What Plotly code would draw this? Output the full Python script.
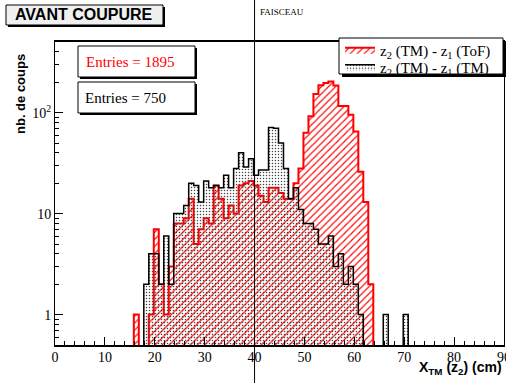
import numpy as np
import plotly.graph_objects as go

# ---- data: counts per 1 cm bin, lower edge of first bin at 14.8 cm ----
first_edge = 14.8
bin_width = 1.0

# z2 (TM) - z1 (ToF)
tof_counts = [0, 1, 0, 0, 1, 7, 2, 1, 3, 8, 8, 9, 14, 5, 7, 9, 8, 19, 14, 9,
              12, 10, 19, 20, 21, 19, 15, 13, 18, 18, 16, 14, 14, 20, 28, 63,
              92, 153, 187, 196, 203, 186, 116, 116, 95, 65, 26, 13, 2,
              0, 0, 0, 0, 0, 0, 0, 0]
# z2 (TM) - z1 (TM)
tm_counts = [0, 0, 0, 2, 4, 4, 2, 6, 2, 10, 10, 12, 20, 19, 13, 21, 18, 19,
             18, 24, 18, 28, 40, 29, 35, 24, 27, 27, 71, 70, 50, 28, 14, 18,
             11, 8, 8, 7, 5, 5, 6, 3, 4, 2, 3, 2, 1, 0, 0, 0, 0, 1, 0, 0, 0,
             1, 0]

x_ticks = [0, 10, 20, 30, 40, 50, 60, 70, 80, 90]
y_ticks = [1, 10, 100]
y_tick_text = ["1", "10", "10<sup>2</sup>"]
beam_position = 40

# ---- canvas geometry (pixels) ----
W, H = 506, 383
L, R, T, B = 55, 504, 42, 345


def px(xp):
    return (xp - L) / (R - L)


def py(yp):
    return (B - yp) / (B - T)


edges = first_edge + bin_width * np.arange(len(tof_counts) + 1)
FLOOR = 0.05  # below the axis range, so empty bins drop out of view


def outline(counts):
    c = [v if v > 0 else FLOOR for v in counts]
    xs = [edges[0]] + list(edges[:-1]) + [edges[-1]]
    ys = [FLOOR] + c + [FLOOR]
    return xs, ys


fig = go.Figure()

xs, ys = outline(tof_counts)
fig.add_trace(go.Scatter(
    x=xs, y=ys, mode="lines", line=dict(shape="hv", color="#ff0000", width=2),
    fill="toself", fillcolor="rgba(0,0,0,0)",
    fillpattern=dict(shape="/", fgcolor="#ff0000", bgcolor="rgba(0,0,0,0)",
                     size=5, solidity=0.22, fillmode="replace"),
    name="z<sub>2</sub> (TM) - z<sub>1</sub> (ToF)", legend="legend",
))

xs, ys = outline(tm_counts)
fig.add_trace(go.Scatter(
    x=xs, y=ys, mode="lines", line=dict(shape="hv", color="#000000", width=1.5),
    fill="toself", fillcolor="rgba(0,0,0,0)",
    fillpattern=dict(shape=".", fgcolor="#444444", bgcolor="rgba(0,0,0,0)",
                     size=3, solidity=0.2, fillmode="replace"),
    name="z<sub>2</sub> (TM) - z<sub>1</sub> (TM)", legend="legend2",
))

serif = "Liberation Serif"
sans = "Liberation Sans"

minor_y = [0.6, 0.7, 0.8, 0.9] + [m * d for d in (1, 10) for m in range(2, 10)] + [200, 300, 400]

fig.update_xaxes(
    range=[0, 90], tickvals=x_ticks, ticks="inside", ticklen=8, tickwidth=1,
    tickcolor="black", showline=True, linecolor="black", linewidth=1.5,
    mirror=True, showgrid=False, zeroline=False, ticklabeloverflow="allow",
    ticklabelstandoff=-2, automargin=False,
    tickfont=dict(family=serif, size=14, color="black"),
    minor=dict(dtick=2, ticks="inside", ticklen=4, tickcolor="black", showgrid=False),
)
fig.update_yaxes(
    type="log", range=[np.log10(0.5), np.log10(500)],
    tickvals=y_ticks, ticktext=y_tick_text, ticks="inside", ticklen=8,
    tickwidth=1, tickcolor="black", showline=True, linecolor="black",
    linewidth=1, mirror=True, showgrid=False, zeroline=False, automargin=False,
    tickfont=dict(family=serif, size=14, color="black"),
    minor=dict(tickvals=minor_y, ticks="inside", ticklen=4, tickcolor="black", showgrid=False),
)

shapes = []


def box(x0, y0, x1, y1, fill, shadow=2):
    shapes.append(dict(type="rect", xref="paper", yref="paper",
                       x0=px(x0 + shadow), x1=px(x1 + shadow),
                       y0=py(y0 + shadow), y1=py(y1 + shadow),
                       fillcolor="black", line=dict(width=0), layer="above"))
    shapes.append(dict(type="rect", xref="paper", yref="paper",
                       x0=px(x0), x1=px(x1), y0=py(y0), y1=py(y1),
                       fillcolor=fill, line=dict(color="black", width=1),
                       layer="above"))


# title pave
box(6, 5, 163, 25, "#f0f0f0", shadow=2)
# entries panes
box(78, 46, 195, 77, "white", shadow=2)
box(78, 82, 195, 113, "white", shadow=2)
# legend frame
box(339, 38, 503, 74, "white", shadow=3)

# beam line across the whole canvas
shapes.append(dict(type="line", xref="x", yref="paper",
                   x0=beam_position, x1=beam_position, y0=py(H), y1=py(0),
                   line=dict(color="black", width=1), layer="above"))

annotations = [
    dict(text="<b>AVANT COUPURE</b>", x=px(84), y=py(15), xref="paper", yref="paper",
         showarrow=False, xanchor="center", yanchor="middle",
         font=dict(family=sans, size=16, color="black")),
    dict(text="FAISCEAU", x=px(258), y=py(12), xref="paper", yref="paper",
         showarrow=False, xanchor="left", yanchor="middle",
         font=dict(family=serif, size=9, color="black")),
    dict(text=f"Entries = {sum(tof_counts)}", x=px(84), y=py(62), xref="paper", yref="paper",
         showarrow=False, xanchor="left", yanchor="middle",
         font=dict(family=serif, size=15, color="#ff0000")),
    dict(text=f"Entries = {sum(tm_counts)}", x=px(83), y=py(98), xref="paper", yref="paper",
         showarrow=False, xanchor="left", yanchor="middle",
         font=dict(family=serif, size=15, color="black")),
    dict(text="<b>nb. de coups</b>", x=px(21), y=py(52), xref="paper", yref="paper",
         showarrow=False, xanchor="center", yanchor="top", textangle=-90,
         font=dict(family=sans, size=13, color="black")),
    dict(text="<b>X<sub>TM</sub> (z<sub>2</sub>) (cm)</b>", x=px(504), y=py(368),
         xref="paper", yref="paper", showarrow=False, xanchor="right", yanchor="middle",
         font=dict(family=sans, size=14, color="black")),
]

legend_style = dict(xanchor="left", yanchor="middle", bgcolor="rgba(0,0,0,0)",
                    borderwidth=0, font=dict(family=serif, size=15, color="black"),
                    itemwidth=30)

fig.update_layout(
    width=W, height=H, autosize=False,
    margin=dict(l=L, r=W - R, t=T, b=H - B, pad=0, autoexpand=False),
    paper_bgcolor="white", plot_bgcolor="white",
    shapes=shapes, annotations=annotations,
    showlegend=True,
    legend=dict(x=px(340), y=py(50), **legend_style),
    legend2=dict(x=px(340), y=py(67), **legend_style),
)

fig.write_html("out.html", include_plotlyjs=True, config={"displayModeBar": False})
